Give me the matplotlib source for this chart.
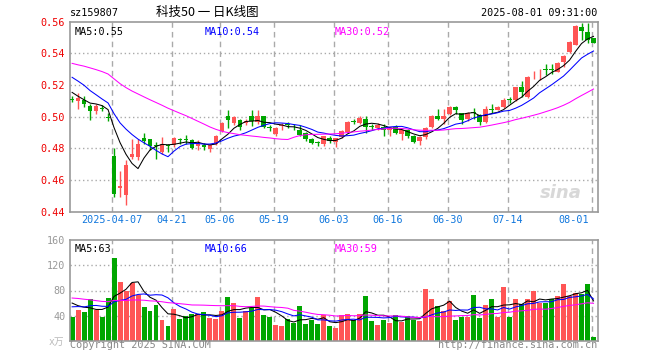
import numpy as np
import pandas as pd
import matplotlib
matplotlib.use("Agg")
import matplotlib.pyplot as plt
from matplotlib.transforms import blended_transform_factory

plt.rcParams['font.family'] = ['DejaVu Sans Mono', 'Noto Sans CJK SC']

# closes / volumes of the days before the first visible candle (only feed the moving averages)
prev_close = [0.540, 0.533, 0.536, 0.540, 0.542, 0.545, 0.543, 0.547, 0.545, 0.541,
              0.538, 0.540, 0.536, 0.533, 0.535, 0.537, 0.534, 0.533, 0.531, 0.533,
              0.536, 0.534, 0.537, 0.533, 0.532, 0.524, 0.519, 0.514, 0.5095]
prev_vol = [70, 82, 95, 88, 76, 80, 72, 90, 85, 68, 74, 65, 78, 70, 62, 66, 72, 64, 68, 75,
            45, 52, 48, 44, 51, 70, 58, 72, 62]

opens = [0.5107, 0.5100, 0.5108, 0.5065, 0.5037, 0.5055, 0.4998, 0.4751, 0.4547, 0.4505,
         0.4747, 0.4747, 0.4867, 0.4859, 0.4817, 0.4778, 0.4817, 0.4820, 0.4854, 0.4854,
         0.4852, 0.4815, 0.4820, 0.4794, 0.4827, 0.4911, 0.5006, 0.4961, 0.4981, 0.4963,
         0.5004, 0.4965, 0.5002, 0.4930, 0.4892, 0.4942, 0.4952, 0.4936, 0.4917, 0.4896,
         0.4857, 0.4836, 0.4830, 0.4866, 0.4842, 0.4873, 0.4905, 0.4970, 0.4962, 0.4983,
         0.4938, 0.4931, 0.4938, 0.4915, 0.4936, 0.4890, 0.4915, 0.4878, 0.4848, 0.4870,
         0.4934, 0.5002, 0.4986, 0.5017, 0.5062, 0.5023, 0.4986, 0.5025, 0.5012, 0.4965,
         0.5045, 0.5043, 0.5064, 0.5107, 0.5105, 0.5185, 0.5126, 0.5254, 0.5292, 0.5302,
         0.5297, 0.5284, 0.5347, 0.5410, 0.5453, 0.5568, 0.5537, 0.5495]
highs = [0.5130, 0.5148, 0.5130, 0.5079, 0.5078, 0.5075, 0.5025, 0.4800, 0.4656, 0.4726,
         0.4859, 0.4859, 0.4896, 0.4859, 0.4839, 0.4873, 0.4829, 0.4874, 0.4865, 0.4885,
         0.4857, 0.4852, 0.4831, 0.4825, 0.4885, 0.4968, 0.5043, 0.5006, 0.4985, 0.4985,
         0.5043, 0.5043, 0.5006, 0.4945, 0.4935, 0.4959, 0.4965, 0.4955, 0.4945, 0.4905,
         0.4866, 0.4845, 0.4880, 0.4875, 0.4868, 0.4915, 0.4972, 0.4985, 0.5004, 0.5004,
         0.4957, 0.4962, 0.4957, 0.4936, 0.4945, 0.4920, 0.4925, 0.4885, 0.4878, 0.4938,
         0.5008, 0.5048, 0.5048, 0.5065, 0.5065, 0.5025, 0.5030, 0.5058, 0.5015, 0.5068,
         0.5079, 0.5070, 0.5115, 0.5125, 0.5190, 0.5225, 0.5255, 0.5288, 0.5300, 0.5331,
         0.5331, 0.5345, 0.5388, 0.5475, 0.5578, 0.5590, 0.5590, 0.5498]
lows = [0.5090, 0.5048, 0.5063, 0.4979, 0.5020, 0.5035, 0.4975, 0.4494, 0.4494, 0.4442,
        0.4730, 0.4726, 0.4830, 0.4789, 0.4730, 0.4764, 0.4778, 0.4810, 0.4830, 0.4830,
        0.4794, 0.4789, 0.4789, 0.4778, 0.4820, 0.4905, 0.4930, 0.4950, 0.4917, 0.4950,
        0.4944, 0.4954, 0.4930, 0.4910, 0.4875, 0.4913, 0.4930, 0.4915, 0.4875, 0.4845,
        0.4825, 0.4815, 0.4815, 0.4835, 0.4810, 0.4865, 0.4900, 0.4955, 0.4955, 0.4898,
        0.4915, 0.4915, 0.4878, 0.4878, 0.4890, 0.4852, 0.4865, 0.4835, 0.4821, 0.4858,
        0.4930, 0.4980, 0.4954, 0.5012, 0.5017, 0.4954, 0.4975, 0.4986, 0.4950, 0.4960,
        0.5023, 0.5040, 0.5055, 0.5085, 0.5098, 0.5125, 0.5120, 0.5235, 0.5232, 0.5263,
        0.5269, 0.5280, 0.5316, 0.5405, 0.5450, 0.5484, 0.5465, 0.5463]
closes = [0.5103, 0.5117, 0.5080, 0.5035, 0.5067, 0.5051, 0.4990, 0.4511, 0.4562, 0.4697,
          0.4764, 0.4827, 0.4846, 0.4815, 0.4813, 0.4825, 0.4813, 0.4863, 0.4850, 0.4850,
          0.4800, 0.4831, 0.4808, 0.4820, 0.4878, 0.4962, 0.4979, 0.4996, 0.4938, 0.4975,
          0.4971, 0.5002, 0.4938, 0.4926, 0.4928, 0.4946, 0.4948, 0.4932, 0.4884, 0.4857,
          0.4836, 0.4832, 0.4876, 0.4845, 0.4863, 0.4909, 0.4968, 0.4966, 0.4989, 0.4936,
          0.4934, 0.4945, 0.4915, 0.4926, 0.4894, 0.4915, 0.4878, 0.4842, 0.4870, 0.4930,
          0.5002, 0.4986, 0.5002, 0.5062, 0.5043, 0.4981, 0.5023, 0.5021, 0.4965, 0.5048,
          0.5041, 0.5064, 0.5106, 0.5103, 0.5185, 0.5158, 0.5249, 0.5259, 0.5297, 0.5298,
          0.5293, 0.5341, 0.5383, 0.5470, 0.5573, 0.5543, 0.5484, 0.5467]
volumes = [38, 49, 46, 67, 49, 38, 68, 131, 93, 80,
           92, 73, 54, 47, 57, 33, 23, 51, 35, 40,
           42, 42, 46, 36, 35, 47, 70, 60, 36, 47,
           52, 70, 41, 38, 25, 23, 34, 29, 55, 27,
           33, 27, 41, 23, 20, 41, 43, 33, 43, 71,
           31, 25, 33, 29, 41, 30, 40, 33, 31, 83,
           67, 55, 47, 63, 33, 38, 38, 73, 36, 57,
           67, 38, 86, 38, 67, 59, 67, 79, 60, 60,
           66, 71, 90, 71, 76, 74, 90, 6]

date_pos = [7, 17, 25, 34, 44, 53, 63, 73, 87]
date_labels = ['2025-04-07', '04-21', '05-06', '05-19', '06-03', '06-16', '06-30', '07-14', '08-01']
price_ticks = [0.44, 0.46, 0.48, 0.50, 0.52, 0.54, 0.56]
vol_ticks = [40, 80, 120, 160]

RED = '#ff5555'
GREEN = '#00a600'
GRID = '#aaaaaa'
EDGE = '#999999'
W, H = 660, 360


def px_rect(x0, y0, x1, y1):
    return [x0 / W, 1 - y1 / H, (x1 - x0) / W, (y1 - y0) / H]


def moving_avg(prev, values, n):
    s = pd.Series(list(prev) + list(values)).rolling(n).mean().to_numpy()
    return s[-len(values):]


n = len(closes)
x = np.arange(n)
o = np.array(opens)
c = np.array(closes)
up = c >= o
colors = np.where(up, RED, GREEN)

fig = plt.figure(figsize=(6.6, 3.6), dpi=100)
ax = fig.add_axes(px_rect(70.3, 21.7, 597.7, 211.7))
axv = fig.add_axes(px_rect(70.3, 240.3, 597.7, 340.7))

for a in (ax, axv):
    a.set_xlim(-0.3, n - 0.3)
    for s in a.spines.values():
        s.set_color(EDGE)
        s.set_linewidth(1.2)
    a.tick_params(length=0, pad=3.6, labelsize=7.3)
    a.set_xticks([])
    for p in date_pos:
        a.axvline(p - 0.3, color=GRID, lw=1, dashes=(4, 3), zorder=0)

# candles
ax.vlines(x, lows, highs, colors=colors, lw=1, zorder=2)
body_h = np.maximum(np.abs(c - o), 0.0006)
ax.bar(x, body_h, bottom=np.minimum(o, c), width=0.8, color=colors, lw=0, zorder=3)

ma5 = moving_avg(prev_close, closes, 5)
ma10 = moving_avg(prev_close, closes, 10)
ma30 = moving_avg(prev_close, closes, 30)
ax.plot(x, ma5, color='black', lw=0.75, zorder=4)
ax.plot(x, ma10, color='#0000ff', lw=0.75, zorder=4)
ax.plot(x, ma30, color='#ff00ff', lw=0.75, zorder=4)

ax.set_ylim(0.44, 0.56)
ax.set_yticks(price_ticks)
ax.set_yticklabels(['%.2f' % t for t in price_ticks], color='#ee0000')
for t in price_ticks[1:-1]:
    ax.axhline(t, color=GRID, lw=1, ls=(0, (1, 2)), zorder=0)

tr = blended_transform_factory(ax.transData, ax.transAxes)
for p, lab in zip(date_pos, date_labels):
    if p == date_pos[-1]:
        ax.text(p - 0.7, -0.045, lab, transform=tr, ha='right', va='center',
                fontsize=7.3, color='#1177dd')
    else:
        ax.text(p - 0.3, -0.045, lab, transform=tr, ha='center', va='center',
                fontsize=7.3, color='#1177dd')

ax.text(0.009, 0.97, 'MA5:%.2f' % ma5[-1], transform=ax.transAxes, va='top', fontsize=7.3, color='black')
ax.text(0.255, 0.97, 'MA10:%.2f' % ma10[-1], transform=ax.transAxes, va='top', fontsize=7.3, color='#0000ff')
ax.text(0.502, 0.97, 'MA30:%.2f' % ma30[-1], transform=ax.transAxes, va='top', fontsize=7.3, color='#ff00ff')
ax.text(0.97, 0.1, 'sina', transform=ax.transAxes, ha='right', va='center', fontsize=13,
        fontstyle='italic', fontweight='bold', color='#d8d8d8', family='DejaVu Sans', zorder=1)

# volume
axv.bar(x, volumes, width=0.83, color=colors, lw=0, zorder=2)
vma5 = moving_avg(prev_vol, volumes, 5)
vma10 = moving_avg(prev_vol, volumes, 10)
vma30 = moving_avg(prev_vol, volumes, 30)
axv.plot(x, vma5, color='black', lw=0.75, zorder=4)
axv.plot(x, vma10, color='#0000ff', lw=0.75, zorder=4)
axv.plot(x, vma30, color='#ff00ff', lw=0.75, zorder=4)
axv.set_ylim(0, 160)
axv.set_yticks(vol_ticks)
axv.set_yticklabels([str(t) for t in vol_ticks], color='#999999')
for t in vol_ticks[:-1]:
    axv.axhline(t, color=GRID, lw=1, ls=(0, (1, 2)), zorder=0)

axv.text(0.009, 0.96, 'MA5:%d' % int(vma5[-1]), transform=axv.transAxes, va='top', fontsize=7.3, color='black')
axv.text(0.255, 0.96, 'MA10:%d' % int(vma10[-1]), transform=axv.transAxes, va='top', fontsize=7.3, color='#0000ff')
axv.text(0.502, 0.96, 'MA30:%d' % int(vma30[-1]), transform=axv.transAxes, va='top', fontsize=7.3, color='#ff00ff')

# header and footer texts
fig.text(70 / W, 1 - 12.5 / H, 'sz159807', ha='left', va='center', fontsize=7.3, color='black')
fig.text(207 / W, 1 - 12.5 / H, '科技50 一 日K线图', ha='center', va='center', fontsize=9,
         color='black', family=['Noto Sans CJK SC', 'DejaVu Sans'])
fig.text(597 / W, 1 - 12.5 / H, '2025-08-01 09:31:00', ha='right', va='center', fontsize=7.3, color='black')
fig.text(64 / W, 1 - 342 / H, 'x万', ha='right', va='center', fontsize=7, color='#bbbbbb',
         family=['DejaVu Sans Mono', 'Noto Sans CJK SC'])
fig.text(70 / W, 1 - 345.5 / H, 'Copyright 2025 SINA.COM', ha='left', va='center', fontsize=7.3, color='#888888')
fig.text(597 / W, 1 - 345.5 / H, 'http://finance.sina.com.cn', ha='right', va='center', fontsize=7.3,
         color='#888888')

fig.savefig('out.png', dpi=100)
